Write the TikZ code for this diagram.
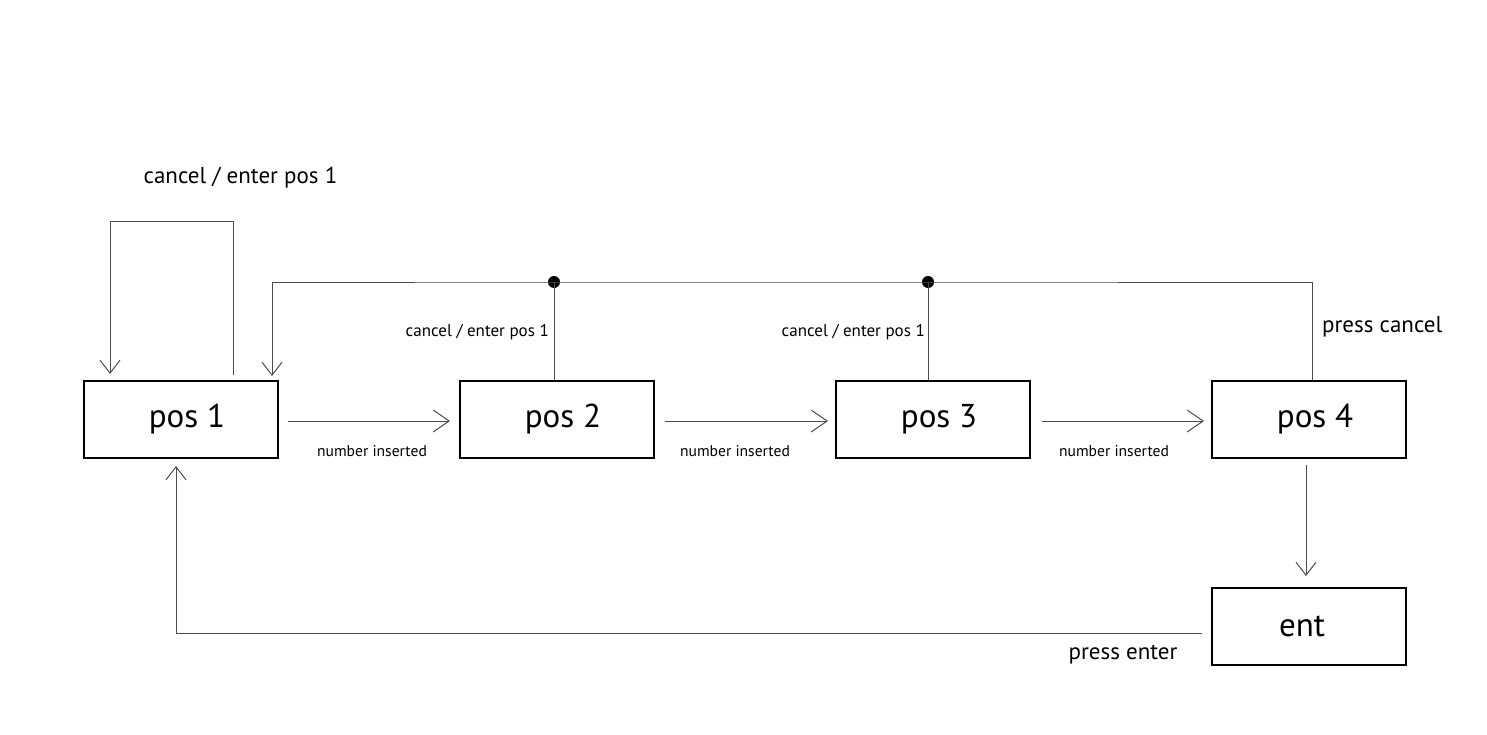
\documentclass[tikz,border=0pt]{standalone}
\usepackage{fontspec}
\setmainfont{PT Sans}
\usetikzlibrary{arrows.meta}
\begin{document}
\begin{tikzpicture}[x=1pt,y=-1pt,
  state/.style={draw=black,line width=1.1pt,minimum width=194pt,minimum height=77pt,
    inner sep=0pt,font=\fontsize{33}{35}\selectfont},
  wire/.style={draw=black!70,line width=1pt},
  tip/.style={wire,-{Straight Barb[length=13pt,width=20pt,line width=1pt]}},
  htip/.style={wire,-{Straight Barb[length=16pt,width=22pt,line width=1pt]}},
  biglbl/.style={font=\fontsize{23}{25}\selectfont,inner sep=0pt},
  smalllbl/.style={font=\fontsize{17}{19}\selectfont,inner sep=0pt},
  numlbl/.style={font=\fontsize{15.6}{17}\selectfont,inner sep=0pt},
  junction/.style={circle,fill=black,inner sep=0pt,minimum size=12pt}]
\useasboundingbox (0,0) rectangle (1487,735);

% states
\node[state] (p1) at (181,419.5) {\hspace*{12pt}pos 1};
\node[state] (p2) at (557,419.5) {\hspace*{12pt}pos 2};
\node[state] (p3) at (933,419.5) {\hspace*{12pt}pos 3};
\node[state] (p4) at (1309,419.5) {\hspace*{12pt}pos 4};
\node[state] (ent) at (1309,626.5) {ent\hspace*{14pt}};

% forward transitions
\coordinate (a1s) at (288,421); \coordinate (a1e) at (450,421);
\coordinate (a2s) at (665,421); \coordinate (a2e) at (828,421);
\coordinate (a3s) at (1042,421); \coordinate (a3e) at (1204,421);
\draw[htip] (a1s) -- (a1e);
\draw[htip] (a2s) -- (a2e);
\draw[htip] (a3s) -- (a3e);
\node[numlbl] (n1) at (372,451) {number inserted};
\node[numlbl] (n2) at (735,451) {number inserted};
\node[numlbl] (n3) at (1114,451) {number inserted};

% self loop on pos 1
\coordinate (s0) at (233,375);
\coordinate (s1) at (233,222);
\coordinate (s2) at (110,222);
\coordinate (s3) at (110,374);
\draw[tip] (s0) -- (s1) -- (s2) -- (s3);
\node[biglbl] (selflbl) at (240.5,178) {cancel / enter pos 1};

% cancel bus back to pos 1
\node[junction] (j2) at (554,282) {};
\node[junction] (j3) at (928,282) {};
\coordinate (b4) at (1312,282);
\coordinate (b0) at (272,282);
\coordinate (bend) at (272,376);
\draw[tip] (b4) -- (j3.center) -- (j2.center) -- (b0) -- (bend);
\draw[wire] (j2.center) -- (j2 |- p2.north);
\draw[wire] (j3.center) -- (j3 |- p3.north);
\draw[wire] (b4) -- (b4 |- p4.north);
\node[smalllbl,anchor=east] (c2) at (549,332) {cancel / enter pos 1};
\node[smalllbl,anchor=east] (c3) at (925,332) {cancel / enter pos 1};
\node[biglbl,anchor=west] (pc) at (1322,327) {press cancel};

% pos 4 to ent
\coordinate (d0) at (1306,465);
\coordinate (d1) at (1306,576);
\draw[tip] (d0) -- (d1);

% ent back to pos 1
\coordinate (e0) at (1202,633);
\coordinate (e1) at (176,633);
\coordinate (e2) at (176,466);
\draw[tip] (e0) -- (e1) -- (e2);
\node[biglbl] (pe) at (1123,655) {press enter};
\end{tikzpicture}
\end{document}
